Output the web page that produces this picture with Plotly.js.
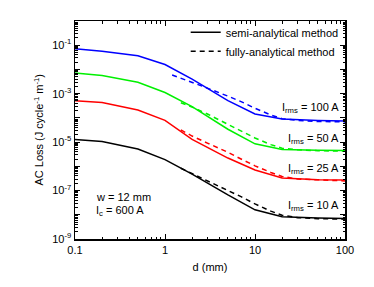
<!DOCTYPE html>
<html><head><meta charset="utf-8">
<script src="https://cdn.plot.ly/plotly-3.0.1.min.js"></script>
<style>html,body{margin:0;padding:0;background:#fff}#chart{width:374px;height:287px}</style>
</head><body><div id="chart"></div>
<script>
// d (mm) for semi-analytical (solid) curves
const dSemi = [0.1, 0.2, 0.5, 1, 2, 5, 10, 20, 50, 100];
// d (mm) for fully-analytical (dashed) curves
const dFull = [1.2, 1.5, 2, 3, 5, 7, 10, 15, 20, 30, 50, 100];

// AC loss (J cycle^-1 m^-1), semi-analytical
const semi100 = [7.1e-2, 5.6e-2, 3.7e-2, 1.6e-2, 4.0e-3, 5.2e-4, 1.45e-4, 8.9e-5, 7.8e-5, 7.4e-5];
const semi50  = [7.1e-3, 5.6e-3, 2.95e-3, 1.12e-3, 2.9e-4, 3.4e-5, 8.5e-6, 5.0e-6, 4.6e-6, 4.5e-6];
const semi25  = [5.1e-4, 4.3e-4, 2.1e-4, 7.9e-5, 1.3e-5, 2.2e-6, 7.1e-7, 3.3e-7, 2.8e-7, 2.75e-7];
const semi10  = [1.29e-5, 1.07e-5, 5.2e-6, 1.9e-6, 4.8e-7, 6.6e-8, 1.6e-8, 8.3e-9, 7.4e-9, 7.1e-9];

// AC loss, fully-analytical
const full100 = [5.9e-3, 4.4e-3, 2.95e-3, 1.66e-3, 7.9e-4, 4.7e-4, 2.5e-4, 1.32e-4, 9.3e-5, 7.8e-5, 7.1e-5, 6.8e-5];
const full50  = [null, 4.2e-4, 2.8e-4, 1.41e-4, 5.6e-5, 3.0e-5, 1.48e-5, 7.9e-6, 5.6e-6, 4.8e-6, 4.4e-6, 4.2e-6];
const full25  = [null, 3.2e-5, 1.78e-5, 8.9e-6, 3.8e-6, 2.0e-6, 1.05e-6, 5.6e-7, 3.8e-7, 3.0e-7, 2.7e-7, 2.5e-7];
const full10  = [null, 8.3e-7, 5.0e-7, 2.3e-7, 1.0e-7, 5.6e-8, 2.8e-8, 1.41e-8, 9.5e-9, 7.6e-9, 6.9e-9, 6.6e-9];

const seriesNames = ['I<sub>rms</sub> = 100 A', 'I<sub>rms</sub> = 50 A', 'I<sub>rms</sub> = 25 A', 'I<sub>rms</sub> = 10 A'];
const colors = ['#0000ff', '#00f000', '#ff0000', '#000000'];
const semiSets = [semi100, semi50, semi25, semi10];
const fullSets = [full100, full50, full25, full10];

const xTickVals = [0.1, 1, 10, 100];
const xTickText = ['0.1', '1', '10', '100'];
const yTickVals = [1e-9, 1e-8, 1e-7, 1e-6, 1e-5, 1e-4, 1e-3, 1e-2, 1e-1, 1];
const yTickText = ['10<sup>-9</sup>', ' ', '10<sup>-7</sup>', ' ', '10<sup>-5</sup>', ' ', '10<sup>-3</sup>', ' ', '10<sup>-1</sup>', ' '];

const FONT = 'Liberation Sans, Arial, sans-serif';
const DASH = '5px,4px';
const traces = [];
for (let i = 0; i < 4; i++) {
  traces.push({x: dSemi, y: semiSets[i], mode: 'lines', line: {color: colors[i], width: 1.5}, showlegend: false, hoverinfo: 'skip'});
  traces.push({x: dFull, y: fullSets[i], mode: 'lines', line: {color: colors[i], width: 1.5, dash: DASH}, showlegend: false, connectgaps: false, hoverinfo: 'skip'});
}
traces.push({x: [null], y: [null], mode: 'lines', name: 'semi-analytical method', line: {color: '#000', width: 1.5}});
traces.push({x: [null], y: [null], mode: 'lines', name: 'fully-analytical method', line: {color: '#000', width: 1.5, dash: DASH}});

const txtFont = {family: FONT, size: 11, color: '#000'};
const labelY = [0.601, 0.461, 0.321, 0.151];
const annotations = seriesNames.map((t, i) => ({
  xref: 'paper', yref: 'paper', x: 0.985, y: labelY[i], xanchor: 'right', yanchor: 'middle',
  text: t, showarrow: false, font: txtFont
}));
annotations.push({xref: 'paper', yref: 'paper', x: 0.07, y: 0.193, xanchor: 'left', yanchor: 'middle', text: 'w = 12 mm', showarrow: false, font: txtFont});
annotations.push({xref: 'paper', yref: 'paper', x: 0.07, y: 0.128, xanchor: 'left', yanchor: 'middle', text: 'I<sub>c</sub> = 600 A', showarrow: false, font: txtFont});
annotations.push({xref: 'paper', yref: 'paper', x: -0.135, y: 0.5, xanchor: 'center', yanchor: 'middle', textangle: -90,
  text: 'AC Loss (J cycle<sup>-1</sup> m<sup>-1</sup>)', showarrow: false, font: txtFont});

const axisCommon = {
  type: 'log', showline: true, linecolor: '#000', linewidth: 1.5, mirror: 'ticks',
  ticks: 'inside', ticklen: 5, tickwidth: 1, tickcolor: '#000', showgrid: false, zeroline: false,
  tickfont: txtFont,
  minor: {ticks: 'inside', ticklen: 2.5, tickwidth: 1, tickcolor: '#000', dtick: 'D1', showgrid: false}
};

const layout = {
  width: 374, height: 287,
  margin: {l: 75, r: 29, t: 21, b: 48},
  paper_bgcolor: '#fff', plot_bgcolor: '#fff',
  font: txtFont,
  xaxis: Object.assign({}, axisCommon, {range: [-1, 2], tickmode: 'array', tickvals: xTickVals, ticktext: xTickText,
    title: {text: 'd (mm)', font: txtFont, standoff: 8}}),
  yaxis: Object.assign({}, axisCommon, {range: [-9, 0], tickmode: 'array', tickvals: yTickVals, ticktext: yTickText}),
  showlegend: true,
  legend: {x: 0.41, y: 1.015, xanchor: 'left', yanchor: 'top', bgcolor: 'rgba(0,0,0,0)', borderwidth: 0,
    font: txtFont, itemwidth: 30, tracegroupgap: 0},
  annotations: annotations
};

Plotly.newPlot('chart', traces, layout, {staticPlot: true, displayModeBar: false});
</script></body></html>
